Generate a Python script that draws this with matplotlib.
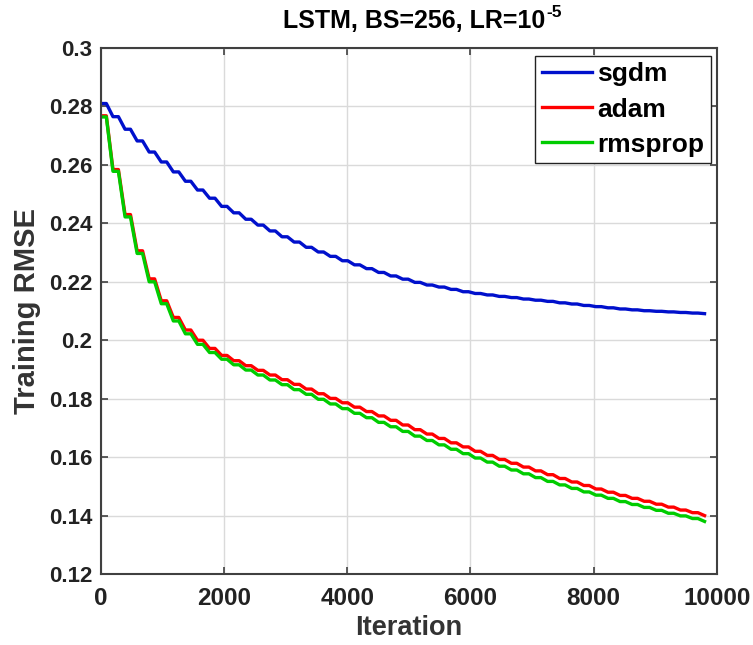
import matplotlib
matplotlib.use("Agg")
import matplotlib.pyplot as plt
from matplotlib.ticker import FuncFormatter

# per-epoch training RMSE levels (196 iterations per epoch, 50 epochs)
ITERS_PER_EPOCH = 196
sgdm = [0.2810, 0.2765, 0.2722, 0.2682, 0.2644, 0.2610, 0.2576, 0.2544, 0.2514, 0.2486,
        0.2458, 0.2436, 0.2414, 0.2394, 0.2374, 0.2354, 0.2336, 0.2318, 0.2302, 0.2287,
        0.2272, 0.2258, 0.2245, 0.2232, 0.2220, 0.2209, 0.2198, 0.2189, 0.2182, 0.2174,
        0.2166, 0.2160, 0.2155, 0.2150, 0.2146, 0.2141, 0.2137, 0.2133, 0.2128, 0.2124,
        0.2119, 0.2115, 0.2111, 0.2107, 0.2104, 0.2101, 0.2099, 0.2097, 0.2095, 0.2093,
        0.2091]
adam = [0.2768, 0.2584, 0.2430, 0.2306, 0.2210, 0.2135, 0.2078, 0.2035, 0.2000, 0.1972,
        0.1948, 0.1930, 0.1913, 0.1897, 0.1881, 0.1865, 0.1849, 0.1833, 0.1817, 0.1801,
        0.1786, 0.1771, 0.1756, 0.1741, 0.1726, 0.1710, 0.1694, 0.1679, 0.1664, 0.1649,
        0.1635, 0.1620, 0.1606, 0.1592, 0.1579, 0.1566, 0.1553, 0.1540, 0.1527, 0.1515,
        0.1503, 0.1491, 0.1480, 0.1469, 0.1459, 0.1449, 0.1439, 0.1429, 0.1419, 0.1410,
        0.1400]
rmsprop = [0.2764, 0.2578, 0.2422, 0.2297, 0.2200, 0.2125, 0.2066, 0.2022, 0.1986, 0.1958,
           0.1935, 0.1916, 0.1898, 0.1881, 0.1864, 0.1848, 0.1831, 0.1815, 0.1798, 0.1782,
           0.1766, 0.1750, 0.1735, 0.1719, 0.1704, 0.1688, 0.1672, 0.1657, 0.1642, 0.1627,
           0.1612, 0.1597, 0.1583, 0.1569, 0.1556, 0.1543, 0.1530, 0.1517, 0.1505, 0.1493,
           0.1481, 0.1470, 0.1459, 0.1448, 0.1438, 0.1428, 0.1418, 0.1408, 0.1399, 0.1390,
           0.1380]
labels = ["sgdm", "adam", "rmsprop"]
colors = ["#0010CC", "#FF0000", "#00CC00"]

x_ticks = [0, 2000, 4000, 6000, 8000, 10000]
y_ticks = [0.12, 0.14, 0.16, 0.18, 0.2, 0.22, 0.24, 0.26, 0.28, 0.3]

FONT = "Liberation Sans"


def stair(levels, flat=0.45):
    """Flat for part of each epoch, then a ramp down to the next epoch's level."""
    xs, ys = [], []
    for k in range(len(levels) - 1):
        x0 = k * ITERS_PER_EPOCH
        xs += [x0, x0 + flat * ITERS_PER_EPOCH]
        ys += [levels[k], levels[k]]
    xs.append((len(levels) - 1) * ITERS_PER_EPOCH)
    ys.append(levels[-1])
    return xs, ys


fig = plt.figure(figsize=(7.53, 6.45), dpi=100)
ax = fig.add_axes([0.134, 0.110, 0.818, 0.8156])

for lv, lab, col in zip([sgdm, adam, rmsprop], labels, colors):
    xs, ys = stair(lv)
    ax.plot(xs, ys, color=col, lw=2.4, label=lab)

ax.set_xlim(0, 10000)
ax.set_ylim(0.12, 0.3)
ax.set_xticks(x_ticks)
ax.set_yticks(y_ticks)
ax.yaxis.set_major_formatter(FuncFormatter(lambda v, p: f"{v:g}"))
ax.grid(True, color="#DADADA", lw=1.0)
ax.set_axisbelow(True)
ax.tick_params(direction="in", top=True, right=True, length=5, width=1.2,
               color="#404040", pad=6)
ax.tick_params(axis="x", pad=9)
for s in ax.spines.values():
    s.set_color("#404040")
    s.set_linewidth(1.5)

for t in ax.get_xticklabels():
    t.set_fontfamily(FONT); t.set_fontweight("bold"); t.set_fontsize(17.5); t.set_color("#222222")
for t in ax.get_yticklabels():
    t.set_fontfamily(FONT); t.set_fontweight("bold"); t.set_fontsize(16); t.set_color("#222222")

ax.set_xlabel("Iteration", family=FONT, fontweight="bold", fontsize=19.5, color="#333333", labelpad=4)
ax.set_ylabel("Training RMSE", family=FONT, fontweight="bold", fontsize=21, color="#333333", labelpad=6)

# title with a plain-hyphen superscript, as in the MATLAB original
ttl = fig.text(0.376, 0.968, "LSTM, BS=256, LR=10", family=FONT, fontweight="bold",
               fontsize=18, ha="left", va="center")
fig.canvas.draw()
bb = ttl.get_window_extent()
fig.text((bb.x1 + 1) / fig.bbox.width, (bb.y1 - 4) / fig.bbox.height, "-5", family=FONT,
         fontweight="bold", fontsize=12.5, ha="left", va="center")

leg = ax.legend(loc="upper right", bbox_to_anchor=(0.99, 0.985),
                prop={"family": FONT, "weight": "bold", "size": 19},
                handlelength=1.9, handletextpad=0.2, labelspacing=0.42, borderpad=0.25,
                fancybox=False, framealpha=1, edgecolor="#222222", borderaxespad=0)
leg.get_frame().set_linewidth(1.0)

fig.savefig("out.png", dpi=100)
